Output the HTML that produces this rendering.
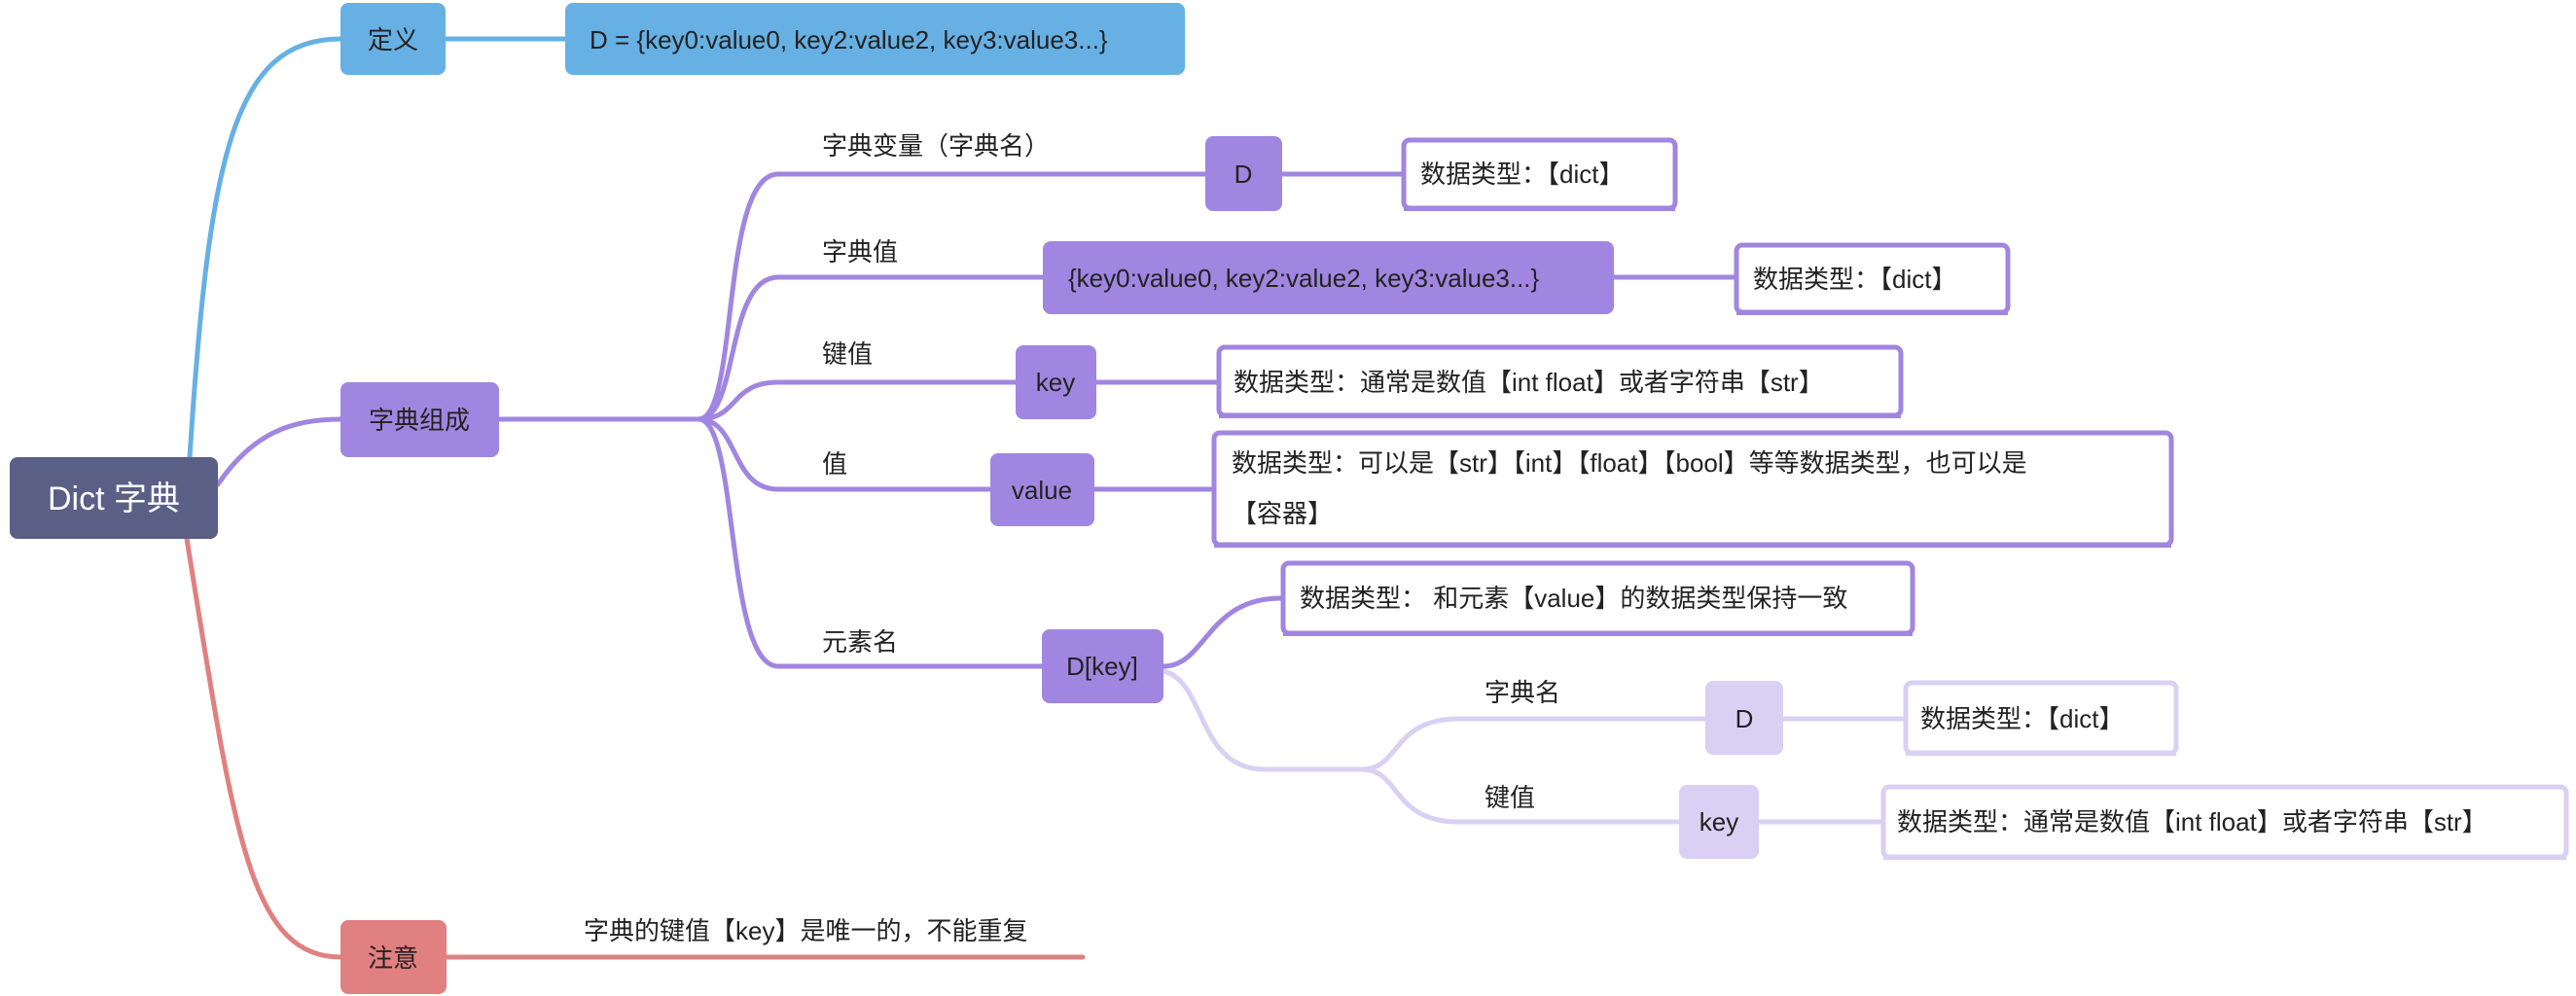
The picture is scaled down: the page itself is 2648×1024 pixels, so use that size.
<!DOCTYPE html>
<html><head><meta charset="utf-8"><style>
html,body{margin:0;padding:0;background:#fff;width:2648px;height:1024px;overflow:hidden}
svg{display:block}
text{font-family:"Liberation Sans","Noto Sans CJK SC",sans-serif;font-size:26px;fill:#222}
</style></head><body>
<svg width="2648" height="1024" viewBox="0 0 2648 1024" xmlns="http://www.w3.org/2000/svg">
<g fill="none" stroke-width="5" stroke-linecap="round">
<path d="M195,470 C215,160 240,40 350,40" stroke="#67b0e3"/>
<path d="M458,40 L581,40" stroke="#67b0e3"/>
<path d="M224,498 C260,445 300,431 350,431" stroke="#a086e0"/>
<path d="M192,554 C240,850 255,984 350,984" stroke="#e08080"/>
<path d="M459,984 L1113,984" stroke="#e08080"/>
<path d="M513,431 L718,431" stroke="#a086e0"/>
<path d="M718,431 C760,431 740,179 800,179 L1239,179" stroke="#a086e0"/>
<path d="M1318,179 L1441,179" stroke="#a086e0"/>
<path d="M718,431 C760,431 745,285 800,285 L1072,285" stroke="#a086e0"/>
<path d="M1659,285 L1783,285" stroke="#a086e0"/>
<path d="M718,431 C760,431 750,393 800,393 L1044,393" stroke="#a086e0"/>
<path d="M1127,393 L1251,393" stroke="#a086e0"/>
<path d="M718,431 C760,431 750,503 800,503 L1018,503" stroke="#a086e0"/>
<path d="M1125,503 L1246,503" stroke="#a086e0"/>
<path d="M718,431 C760,431 745,685 800,685 L1071,685" stroke="#a086e0"/>
<path d="M1196,685 C1240,685 1240,615 1317,615" stroke="#a086e0"/>
<path d="M1196,690 C1240,700 1230,791 1300,791 L1400,791" stroke="#d9d0f3"/>
<path d="M1400,791 C1440,791 1430,739 1500,739 L1753,739" stroke="#d9d0f3"/>
<path d="M1400,791 C1440,791 1430,845 1500,845 L1726,845" stroke="#d9d0f3"/>
<path d="M1833,739 L1957,739" stroke="#d9d0f3"/>
<path d="M1808,845 L1934,845" stroke="#d9d0f3"/>
</g>
<!-- filled nodes -->
<rect x="10" y="470" width="214" height="84" rx="8" fill="#5a5f86"/>
<text x="117" y="524" text-anchor="middle" style="font-size:34px;fill:#fff">Dict 字典</text>
<rect x="350" y="3" width="108" height="74" rx="8" fill="#67b0e3"/>
<text x="404" y="50" text-anchor="middle">定义</text>
<rect x="581" y="3" width="637" height="74" rx="8" fill="#67b0e3"/>
<text x="606" y="50">D = {key0:value0, key2:value2, key3:value3...}</text>
<rect x="350" y="393" width="163" height="77" rx="8" fill="#a086e0"/>
<text x="431" y="441" text-anchor="middle">字典组成</text>
<rect x="350" y="946" width="109" height="76" rx="8" fill="#e08080"/>
<text x="404" y="994" text-anchor="middle">注意</text>
<rect x="1239" y="140" width="79" height="77" rx="8" fill="#a086e0"/>
<text x="1278" y="188" text-anchor="middle">D</text>
<rect x="1072" y="248" width="587" height="75" rx="8" fill="#a086e0"/>
<text x="1098" y="295">{key0:value0, key2:value2, key3:value3...}</text>
<rect x="1044" y="355" width="83" height="76" rx="8" fill="#a086e0"/>
<text x="1085" y="402" text-anchor="middle">key</text>
<rect x="1018" y="466" width="107" height="75" rx="8" fill="#a086e0"/>
<text x="1071" y="513" text-anchor="middle">value</text>
<rect x="1071" y="647" width="125" height="76" rx="8" fill="#a086e0"/>
<text x="1133" y="694" text-anchor="middle">D[key]</text>
<rect x="1753" y="700" width="80" height="76" rx="8" fill="#d9d0f3"/>
<text x="1793" y="748" text-anchor="middle">D</text>
<rect x="1726" y="807" width="82" height="76" rx="8" fill="#d9d0f3"/>
<text x="1767" y="854" text-anchor="middle">key</text>
<!-- white boxes -->
<g fill="#fff" stroke-width="5">
<rect x="1443" y="144" width="279" height="70" rx="6" stroke="#a086e0"/>
<rect x="1785" y="252" width="279" height="69" rx="6" stroke="#a086e0"/>
<rect x="1253" y="357" width="701" height="70" rx="6" stroke="#a086e0"/>
<rect x="1248" y="445" width="984" height="115" rx="6" stroke="#a086e0"/>
<rect x="1319" y="579" width="647" height="72" rx="6" stroke="#a086e0"/>
<rect x="1959" y="702" width="278" height="72" rx="6" stroke="#d9d0f3"/>
<rect x="1936" y="809" width="702" height="72" rx="6" stroke="#d9d0f3"/>
</g>
<g fill="none" stroke-width="4">
<line x1="1443" y1="215" x2="1722" y2="215" stroke="#a086e0"/>
<line x1="1785" y1="322" x2="2064" y2="322" stroke="#a086e0"/>
<line x1="1253" y1="428" x2="1954" y2="428" stroke="#a086e0"/>
<line x1="1248" y1="561" x2="2232" y2="561" stroke="#a086e0"/>
<line x1="1319" y1="652" x2="1966" y2="652" stroke="#a086e0"/>
<line x1="1959" y1="775" x2="2237" y2="775" stroke="#d9d0f3"/>
<line x1="1936" y1="882" x2="2638" y2="882" stroke="#d9d0f3"/>
</g>
<text x="1460" y="188">数据类型：【dict】</text>
<text x="1802" y="296">数据类型：【dict】</text>
<text x="1268" y="402">数据类型：通常是数值【int float】或者字符串【str】</text>
<text x="1266" y="485">数据类型：可以是【str】【int】【float】【bool】等等数据类型，也可以是</text>
<text x="1266" y="537">【容器】</text>
<text x="1336" y="624">数据类型： 和元素【value】的数据类型保持一致</text>
<text x="1974" y="748">数据类型：【dict】</text>
<text x="1950" y="854">数据类型：通常是数值【int float】或者字符串【str】</text>
<!-- labels -->
<text x="845" y="159">字典变量（字典名）</text>
<text x="845" y="268">字典值</text>
<text x="845" y="373">键值</text>
<text x="845" y="486">值</text>
<text x="845" y="669">元素名</text>
<text x="1526" y="721">字典名</text>
<text x="1526" y="829">键值</text>
<text x="600" y="966">字典的键值【key】是唯一的，不能重复</text>
</svg>
</body></html>
